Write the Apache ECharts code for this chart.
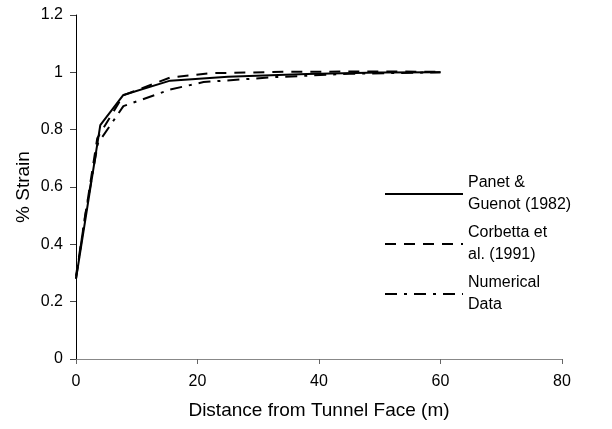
<!DOCTYPE html>
<html>
<head>
<meta charset="utf-8">
<script src="https://cdn.jsdelivr.net/npm/echarts@6/dist/echarts.min.js"></script>
<style>
  html, body { margin: 0; padding: 0; background: #fff; }
</style>
</head>
<body>
<div id="strainChart" style="width: 612px;height:429px"></div>
<script>
// distance from tunnel face (m) and % strain for each curve
const panetX = [0, 4, 7.8, 15.5, 25, 38, 50, 60]
const panetY = [0.28, 0.816, 0.921, 0.971, 0.985, 0.994, 0.999, 1.0]
const corbettaX = [0, 3.5, 7.8, 15.5, 22, 35, 50, 60]
const corbettaY = [0.29, 0.77, 0.92, 0.982, 0.997, 1.002, 1.003, 1.002]
const numericalX = [0, 1.5, 3.6, 7.8, 15.5, 21, 32.5, 45, 60]
const numericalY = [0.28, 0.5, 0.752, 0.882, 0.94, 0.966, 0.983, 0.995, 1.0]
const seriesNames = ['Panet & Guenot (1982)', 'Corbetta et al. (1991)', 'Numerical Data']
const legendText = ['Panet &\nGuenot (1982)', 'Corbetta et\nal. (1991)', 'Numerical\nData']

function pairs (xs, ys) {
  return xs.map(function (x, i) { return [x, ys[i]] })
}

const font = 'Liberation Sans, Arial, sans-serif'
let mychart = echarts.init(document.getElementById('strainChart'))

const legendTops = [161, 211, 261]
mychart.setOption({
  backgroundColor: '#fff',
  animation: false,
  grid: { left: 76, right: 50, top: 15, bottom: 70 },
  legend: legendTops.map(function (t, i) {
    return {
      data: [seriesNames[i]],
      left: 384,
      top: t,
      padding: 0,
      itemWidth: 78,
      itemHeight: 14,
      itemGap: 5,
      itemStyle: { opacity: 0 },
      formatter: function () { return legendText[i] },
      textStyle: {
        fontFamily: font,
        fontSize: 16,
        lineHeight: 22,
        color: '#000',
        padding: [22, 0, 0, 0]
      }
    }
  }),
  xAxis: {
    type: 'value',
    min: 0,
    max: 80,
    interval: 20,
    name: 'Distance from Tunnel Face (m)',
    nameLocation: 'middle',
    nameGap: 42,
    nameMoveOverlap: false,
    nameTextStyle: { fontFamily: font, fontSize: 19, color: '#000' },
    axisLine: { lineStyle: { color: '#888', width: 1 } },
    axisTick: { show: true, length: 5, lineStyle: { color: '#666' } },
    axisLabel: { fontFamily: font, fontSize: 16, color: '#000', margin: 15 },
    splitLine: { show: false }
  },
  yAxis: {
    type: 'value',
    min: 0,
    max: 1.2,
    interval: 0.2,
    name: '% Strain',
    nameLocation: 'middle',
    nameGap: 43,
    nameMoveOverlap: false,
    nameTextStyle: { fontFamily: font, fontSize: 19, color: '#000' },
    axisLine: { show: true, lineStyle: { color: '#000', width: 1 } },
    axisTick: { show: true, length: 6, lineStyle: { color: '#444' } },
    axisLabel: { fontFamily: font, fontSize: 16, color: '#000', margin: 13 },
    splitLine: { show: false }
  },
  series: [{
    name: seriesNames[0],
    type: 'line',
    showSymbol: false,
    symbol: 'none',
    lineStyle: { color: '#000', width: 2, type: 'solid' },
    itemStyle: { color: '#000' },
    data: pairs(panetX, panetY)
  }, {
    name: seriesNames[1],
    type: 'line',
    showSymbol: false,
    symbol: 'none',
    lineStyle: { color: '#000', width: 2, type: [11, 8] },
    itemStyle: { color: '#000' },
    data: pairs(corbettaX, corbettaY)
  }, {
    name: seriesNames[2],
    type: 'line',
    showSymbol: false,
    symbol: 'none',
    lineStyle: { color: '#000', width: 2, type: [12, 7, 3, 7] },
    itemStyle: { color: '#000' },
    data: pairs(numericalX, numericalY)
  }]
})
</script>
</body>
</html>
